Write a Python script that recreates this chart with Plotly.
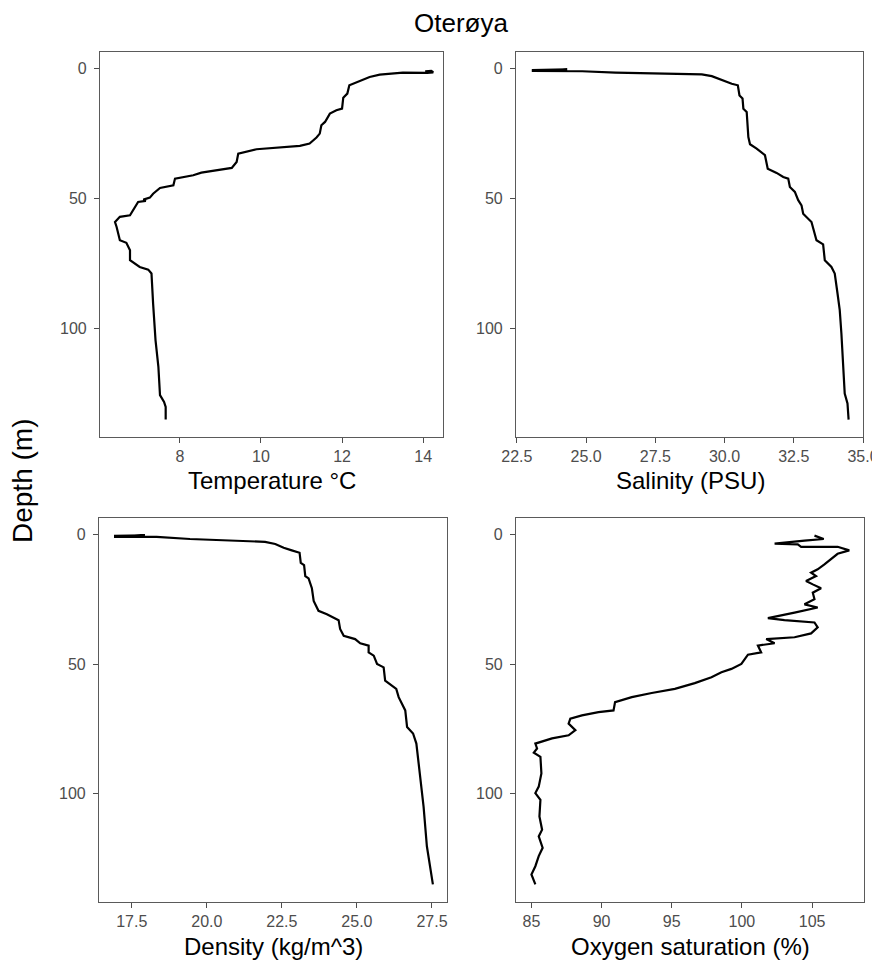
import plotly.graph_objects as go

# ---------------- data ----------------
temp_c = [14.05, 14.2, 14.25, 14.1, 13.5, 12.93, 12.68, 12.36, 12.18, 12.13, 12.03, 12.0, 11.86, 11.7,
          11.58, 11.49, 11.45, 11.37, 11.2, 10.96, 10.55, 9.89, 9.44, 9.4, 9.28, 8.99, 8.53, 8.33,
          7.88, 7.84, 7.51, 7.34, 7.26, 7.1, 7.16, 6.97, 6.89, 6.77, 6.52, 6.4, 6.44, 6.48, 6.52,
          6.68, 6.77, 6.77, 7.01, 7.22, 7.3, 7.34, 7.4, 7.47, 7.51, 7.61, 7.65, 7.65]
temp_depth = [1.0, 0.9, 1.4, 1.6, 1.5, 2.3, 3.2, 5.1, 6.4, 9.6, 11.2, 15.4, 16.0, 17.3,
              20.5, 21.8, 25.0, 26.5, 28.8, 29.7, 30.1, 31.0, 32.7, 35.9, 38.2, 38.8, 40.0, 41.0,
              42.3, 44.9, 45.9, 48.1, 49.6, 50.4, 50.9, 51.3, 53.2, 56.4, 57.0, 59.0, 60.9, 63.5, 66.0,
              67.0, 69.9, 73.7, 76.3, 77.3, 78.8, 90.4, 104.5, 114.7, 125.6, 128.2, 130.1, 135.0]

sal_psu = [23.04, 24.32, 23.04, 24.32, 24.86, 26.06, 27.5, 29.18, 29.54, 29.9, 30.26, 30.48, 30.54,
           30.65, 30.68, 30.8, 30.84, 30.86, 30.92, 31.16, 31.46, 31.56, 31.88, 32.12, 32.3, 32.36,
           32.54, 32.66, 32.78, 32.84, 33.14, 33.26, 33.32, 33.56, 33.62, 33.86, 33.98, 34.08, 34.16,
           34.22, 34.28, 34.34, 34.44, 34.48]
sal_depth = [0.6, 0.3, 0.9, 1.0, 1.0, 1.5, 1.8, 2.2, 2.9, 4.5, 5.8, 6.4, 10.3,
             11.5, 15.4, 16.7, 21.2, 26.3, 29.1, 30.8, 33.3, 38.5, 40.1, 41.7, 42.3, 45.5,
             47.4, 50.6, 52.6, 55.8, 59.0, 63.5, 66.0, 67.6, 73.7, 76.3, 78.8, 86.5, 92.9,
             101.9, 113.5, 125.0, 128.8, 135.0]

dens_kgm3 = [16.91, 17.94, 16.91, 18.33, 19.44, 20.78, 21.94, 22.28, 22.56, 22.83, 23.09, 23.13,
             23.24, 23.28, 23.39, 23.5, 23.56, 23.72, 24.0, 24.39, 24.44, 24.56, 24.94, 25.11,
             25.39, 25.39, 25.56, 25.67, 25.89, 25.94, 26.31, 26.39, 26.61, 26.67, 26.87, 26.98,
             27.11, 27.22, 27.33, 27.44, 27.53]
dens_depth = [0.5, 0.3, 0.9, 0.9, 1.7, 2.3, 2.8, 3.6, 5.1, 6.1, 7.0, 10.9,
              11.8, 16.0, 16.9, 20.7, 25.6, 29.4, 30.7, 33.0, 36.4, 39.0, 40.3, 41.9,
              42.8, 45.4, 46.7, 49.9, 51.2, 56.3, 59.5, 62.7, 67.8, 74.2, 76.7, 80.6,
              93.4, 104.9, 120.2, 127.9, 134.9]

oxy_pct = [105.17, 105.83, 104.46, 102.33, 103.98, 104.22, 106.82, 107.65, 106.82, 106.34, 105.88,
           105.4, 104.93, 105.28, 104.57, 105.05, 105.64, 105.05, 105.17, 104.46, 105.4, 103.75,
           101.85, 103.03, 105.17, 105.4, 104.93, 103.75, 101.73, 102.33, 101.14, 101.37, 100.43,
           99.96, 99.25, 98.54, 97.83, 96.64, 95.22, 93.57, 92.15, 90.96, 90.85, 89.78, 88.6,
           87.77, 87.65, 88.13, 87.65, 86.47, 85.64, 85.28, 85.4, 85.17, 85.64, 85.71, 85.52,
           85.28, 85.64, 85.57, 85.76, 85.52, 85.8, 85.52, 85.28, 85.0, 85.28]
oxy_depth = [0.4, 1.7, 2.3, 3.5, 3.8, 4.7, 4.7, 6.1, 7.4, 9.6, 11.5,
             13.4, 14.7, 16.0, 17.9, 19.2, 20.7, 22.4, 24.9, 26.9, 28.1, 30.1,
             32.2, 33.0, 33.9, 35.8, 38.1, 39.6, 40.3, 41.9, 42.8, 45.4, 46.3,
             49.9, 51.8, 53.1, 55.0, 57.3, 59.5, 61.1, 62.7, 64.6, 67.8, 68.5, 69.7,
             71.0, 72.9, 75.4, 77.4, 78.6, 79.9, 80.6, 82.5, 84.1, 85.7, 92.1, 97.2,
             99.7, 102.3, 108.7, 113.8, 116.4, 120.8, 124.0, 127.9, 131.1, 134.9]

plot_title = "Oterøya"
y_title = "Depth (m)"
x_titles = ["Temperature °C", "Salinity (PSU)", "Density (kg/m^3)", "Oxygen saturation (%)"]
depth_ticks = [0, 50, 100]
temp_ticks = [8, 10, 12, 14]
sal_ticks = [22.5, 25.0, 27.5, 30.0, 32.5, 35.0]
dens_ticks = [17.5, 20.0, 22.5, 25.0, 27.5]
oxy_ticks = [85, 90, 95, 100, 105]

# ---------------- figure ----------------
OFF = 8                      # the page body adds an 8 px margin
W, H = 880 - OFF, 960 - OFF
FONT = "Liberation Sans, Arial, sans-serif"
fig = go.Figure()

series = [(temp_c, temp_depth), (sal_psu, sal_depth), (dens_kgm3, dens_depth), (oxy_pct, oxy_depth)]
for i, (xv, yv) in enumerate(series):
    n = "" if i == 0 else str(i + 1)
    fig.add_trace(go.Scatter(x=xv, y=yv, mode="lines", xaxis="x" + n, yaxis="y" + n,
                             line=dict(color="black", width=2.2), showlegend=False,
                             hoverinfo="skip"))

def px(x):
    return (x - OFF) / W

def py(y):
    return 1 - (y - OFF) / H

# panel boxes in screen pixels (left, right, top, bottom)
panels = [(100, 443, 52, 437), (516, 863, 52, 437), (99, 447, 518, 902), (516, 864, 518, 902)]
xranges = [[6.03, 14.49], [22.47, 35.0], [16.41, 28.0], [83.9, 108.7]]
xticks = [(temp_ticks, [str(t) for t in temp_ticks]),
          (sal_ticks, ["%.1f" % t for t in sal_ticks]),
          (dens_ticks, ["%.1f" % t for t in dens_ticks]),
          (oxy_ticks, [str(t) for t in oxy_ticks])]

axis_common = dict(showline=True, mirror=True, linecolor="#5a5a5a", linewidth=1.2,
                   ticks="outside", ticklen=5, tickwidth=1.2, tickcolor="#4d4d4d",
                   showgrid=False, zeroline=False, automargin=False,
                   tickfont=dict(family=FONT, size=16, color="#4d4d4d"))

layout = {}
for i, (l, r, t, b) in enumerate(panels):
    n = "" if i == 0 else str(i + 1)
    layout["xaxis" + n] = dict(axis_common, domain=[px(l), px(r)], anchor="y" + n,
                               range=xranges[i], tickmode="array",
                               tickvals=xticks[i][0], ticktext=xticks[i][1])
    layout["yaxis" + n] = dict(axis_common, domain=[py(b), py(t)], anchor="x" + n,
                               range=[141.7, -6.4], tickmode="array", tickvals=depth_ticks,
                               ticktext=[str(d) for d in depth_ticks], ticklabelstandoff=4)

def ann(text, cx, cy, size, angle=0):
    return dict(text=text, x=px(cx), y=py(cy), xref="paper", yref="paper",
                xanchor="center", yanchor="middle", textangle=angle, showarrow=False,
                font=dict(family=FONT, size=size, color="black"))

annotations = [ann(plot_title, 461, 23, 26), ann(y_title, 22, 481, 28, -90)]
xt_pos = [(272, 480), (690, 480), (273, 946), (690, 946)]
for (cx, cy), txt in zip(xt_pos, x_titles):
    annotations.append(ann(txt, cx, cy, 24))

fig.update_layout(width=W, height=H, margin=dict(l=0, r=0, t=0, b=0, autoexpand=False),
                  paper_bgcolor="white", plot_bgcolor="white",
                  annotations=annotations, **layout)

fig.write_html("out.html")
